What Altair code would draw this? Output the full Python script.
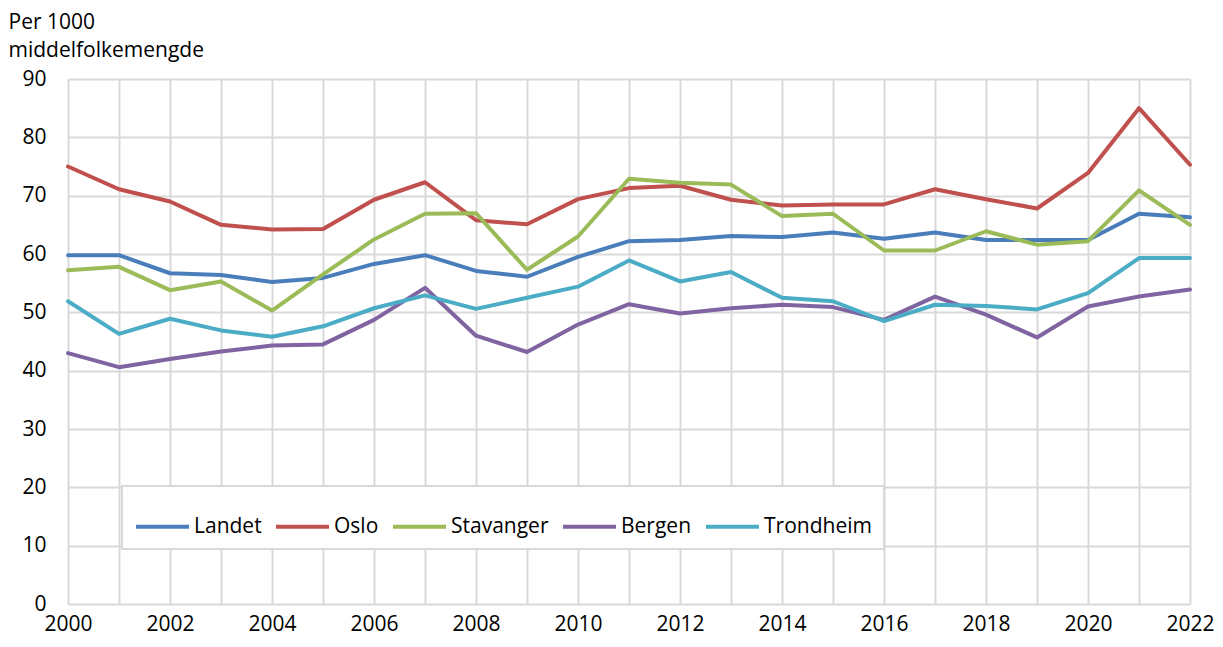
import altair as alt
import pandas as pd

years = list(range(2000, 2023))
series_names = ["Landet", "Oslo", "Stavanger", "Bergen", "Trondheim"]
colors = ["#4a7ebb", "#c0504d", "#9bbb59", "#8064a2", "#4bacc6"]

landet = [59.8, 59.8, 56.7, 56.4, 55.2, 55.9, 58.3, 59.8, 57.1, 56.1, 59.5, 62.2,
          62.4, 63.1, 62.9, 63.7, 62.6, 63.7, 62.4, 62.4, 62.4, 66.9, 66.3]
oslo = [75.0, 71.1, 69.0, 65.0, 64.2, 64.3, 69.3, 72.3, 65.8, 65.1, 69.4, 71.3,
        71.7, 69.3, 68.3, 68.5, 68.5, 71.1, 69.4, 67.8, 73.9, 85.0, 75.3]
stavanger = [57.2, 57.8, 53.8, 55.3, 50.3, 56.5, 62.5, 66.9, 67.0, 57.3, 63.0, 72.9,
             72.2, 71.9, 66.5, 66.9, 60.6, 60.6, 63.9, 61.6, 62.2, 70.9, 65.0]
bergen = [43.0, 40.6, 42.0, 43.3, 44.3, 44.5, 48.7, 54.2, 46.0, 43.2, 47.9, 51.4,
          49.8, 50.7, 51.3, 50.9, 48.7, 52.7, 49.6, 45.7, 51.0, 52.7, 53.9]
trondheim = [51.9, 46.3, 48.9, 46.9, 45.8, 47.6, 50.7, 52.9, 50.6, 52.5, 54.4, 58.9,
             55.3, 56.9, 52.5, 51.9, 48.5, 51.3, 51.1, 50.5, 53.3, 59.3, 59.3]

y_ticks = [0, 10, 20, 30, 40, 50, 60, 70, 80, 90]
axis_title = ["Per 1000", "middelfolkemengde"]

values = [landet, oslo, stavanger, bergen, trondheim]
rows = []
for name, vals in zip(series_names, values):
    for yr, v in zip(years, vals):
        rows.append({"year": yr, "serie": name, "value": v})
df = pd.DataFrame(rows)

FONT = "Open Sans"
FS = 21

chart = alt.Chart(df).mark_line(strokeWidth=4, strokeCap="round", strokeJoin="round").encode(
    x=alt.X("year:Q",
            scale=alt.Scale(domain=[2000, 2022], nice=False, zero=False),
            axis=alt.Axis(values=years, format="d",
                          labelExpr="datum.value % 2 == 0 ? datum.label : ''",
                          title=None, ticks=False, domain=False,
                          grid=True, gridColor="#d9d9d9", gridWidth=2,
                          labelFontSize=FS, labelFont=FONT, labelColor="#000000",
                          labelPadding=9, labelFlush=False)),
    y=alt.Y("value:Q",
            scale=alt.Scale(domain=[0, 90], nice=False),
            axis=alt.Axis(values=y_ticks, title=axis_title,
                          titleAngle=0, titleAlign="left", titleBaseline="alphabetic",
                          titleX=-60, titleY=-51, titleLineHeight=28,
                          titleFont=FONT, titleFontSize=FS, titleFontWeight="normal",
                          titleColor="#000000",
                          ticks=False, domain=False,
                          grid=True, gridColor="#d9d9d9", gridWidth=2,
                          labelFontSize=FS, labelFont=FONT, labelColor="#000000",
                          labelPadding=22)),
    color=alt.Color("serie:N",
                    scale=alt.Scale(domain=series_names, range=colors),
                    sort=series_names,
                    legend=alt.Legend(orient="none", legendX=54, legendY=407,
                                      direction="horizontal", title=None,
                                      fillColor="white", strokeColor="#d9d9d9",
                                      padding=12,
                                      symbolType="stroke", symbolSize=2809,
                                      symbolStrokeWidth=4, labelOffset=3,
                                      columnPadding=6,
                                      labelFont=FONT, labelFontSize=FS,
                                      labelColor="#000000")),
).properties(
    width=1122, height=525,
    padding={"left": 0, "top": 3, "right": 0, "bottom": 2},
).configure_view(stroke=None).configure_legend(strokeWidth=2)

chart.save("out.html", embed_options={"renderer": "svg", "actions": False})
